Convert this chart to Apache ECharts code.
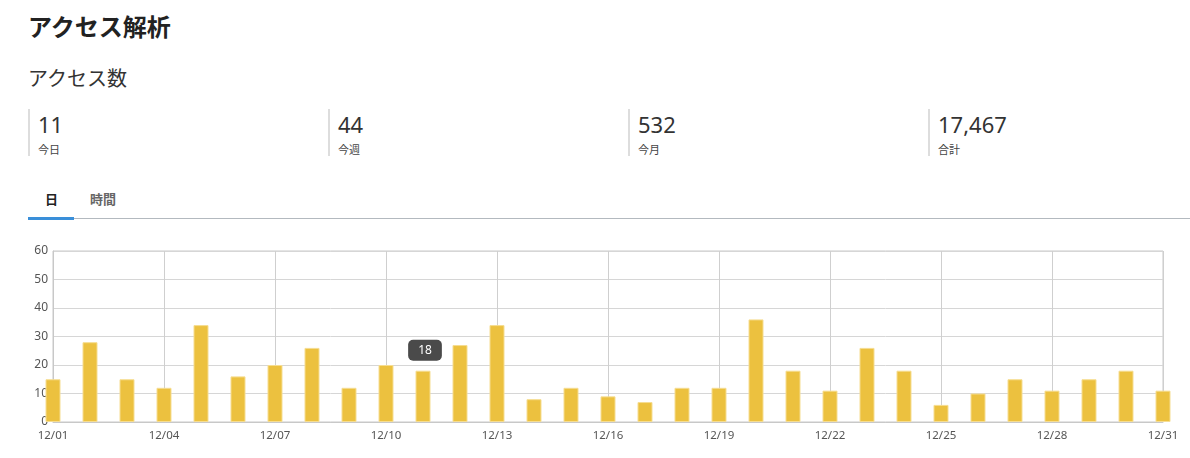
<!DOCTYPE html>
<html><head><meta charset="utf-8">
<script src="https://cdn.jsdelivr.net/npm/echarts@6/dist/echarts.min.js"></script>
<style>
html,body{margin:0;padding:0;background:#fff;width:1190px;height:458px;overflow:hidden;font-family:"Noto Sans","Noto Sans CJK JP",sans-serif;color:#333;}
.abs{position:absolute;white-space:nowrap;}
.title{left:28px;top:15px;font-size:24px;line-height:24px;font-weight:bold;color:#222;}
.sub{left:28px;top:69px;font-size:20px;line-height:20px;color:#333;}
.stat{position:absolute;top:109px;height:47px;width:298px;border-left:2px solid #ddd;}
.stat .num{position:absolute;left:8px;top:4px;font-size:22px;line-height:22px;color:#333;}
.stat .lbl{position:absolute;left:8px;top:34.5px;font-size:11px;line-height:11px;color:#444;}
.tabline{position:absolute;left:28px;top:218px;width:1162px;height:1px;background:#b3b9bf;}
.tabact{position:absolute;left:28px;top:217px;width:46px;height:3px;background:#3a8fd9;}
.tab{position:absolute;top:192.5px;font-size:13px;line-height:13px;font-weight:bold;}
#chart{position:absolute;left:0;top:241px;width:1190px;height:217px;}
</style></head>
<body>
<div class="abs title">アクセス解析</div>
<div class="abs sub">アクセス数</div>
<div id="stats"></div>
<div class="tab" style="left:45px;color:#222;">日</div>
<div class="tab" style="left:90px;color:#666;">時間</div>
<div class="tabline"></div>
<div class="tabact"></div>
<div id="chart"></div>
<script>
const statValues = ["11", "44", "532", "17,467"];
const statLabels = ["今日", "今週", "今月", "合計"];
const days = ["12/01","12/02","12/03","12/04","12/05","12/06","12/07","12/08","12/09","12/10",
  "12/11","12/12","12/13","12/14","12/15","12/16","12/17","12/18","12/19","12/20",
  "12/21","12/22","12/23","12/24","12/25","12/26","12/27","12/28","12/29","12/30","12/31"];
const visits = [15,28,15,12,34,16,20,26,12,20,18,27,34,8,12,9,7,12,12,36,18,11,26,18,6,10,15,11,15,18,11];
const highlightIndex = 10;

const statsEl = document.getElementById('stats');
statValues.forEach((v, i) => {
  const d = document.createElement('div');
  d.className = 'stat';
  d.style.left = (28 + i * 300) + 'px';
  d.innerHTML = '<div class="num">' + v + '</div><div class="lbl">' + statLabels[i] + '</div>';
  statsEl.appendChild(d);
});

const chart = echarts.init(document.getElementById('chart'), null, {renderer: 'canvas'});
const seriesData = visits.map((v, i) => i === highlightIndex ? {
  value: v,
  label: {
    show: true, position: 'top', distance: 10, offset: [2, 0], formatter: '{c}',
    color: '#fff', fontSize: 12, fontFamily: 'Noto Sans',
    backgroundColor: '#4a4a4a', borderRadius: 5, padding: [5, 10, 4, 10]
  }
} : v);
chart.setOption({
  animation: false,
  grid: {left: 53, right: 27, top: 10, bottom: 36, show: true, borderColor: '#c8c8c8', borderWidth: 1, backgroundColor: 'transparent'},
  xAxis: {
    type: 'category', data: days, boundaryGap: false,
    axisLine: {show: true, lineStyle: {color: '#c8c8c8'}},
    axisTick: {show: false},
    axisLabel: {interval: 2, color: '#555', fontSize: 11.5, fontFamily: 'Noto Sans', margin: 8},
    splitLine: {show: true, interval: 2, lineStyle: {color: '#cfcfcf', width: 1}}
  },
  yAxis: {
    type: 'value', min: 0, max: 60, interval: 10,
    axisLine: {show: true, lineStyle: {color: '#c8c8c8'}},
    axisTick: {show: false},
    axisLabel: {color: '#555', fontSize: 12, fontFamily: 'Noto Sans', margin: 5},
    splitLine: {show: true, lineStyle: {color: '#d6d6d6'}}
  },
  series: [{
    type: 'bar', data: seriesData, barWidth: 15,
    itemStyle: {color: '#ecc13f', borderColor: '#f6dd91', borderWidth: 1}
  }]
});
</script>
</body></html>
